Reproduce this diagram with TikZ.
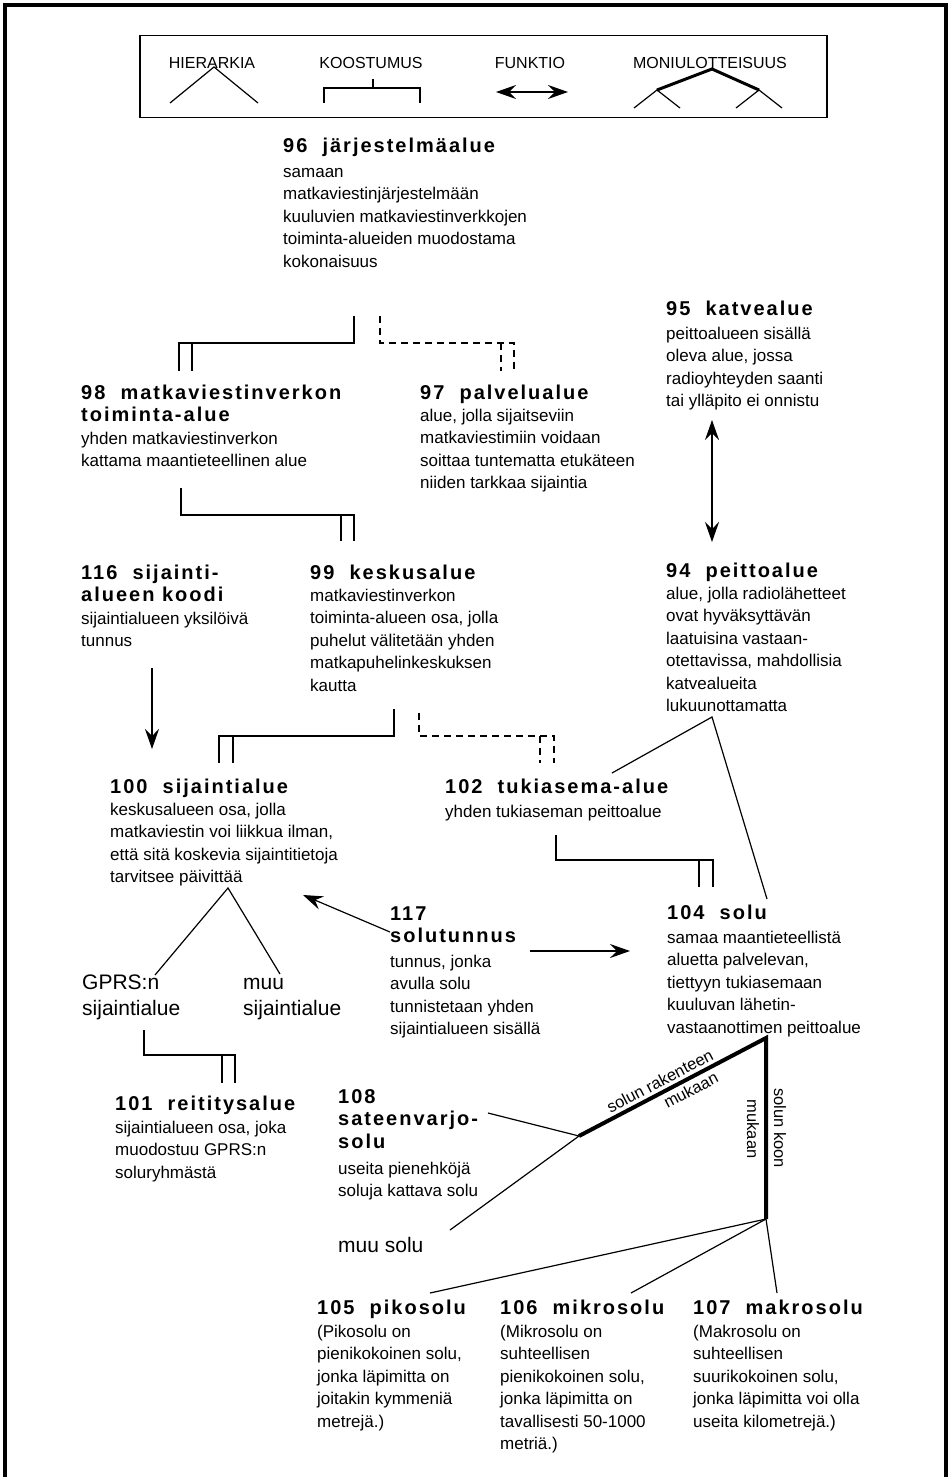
\documentclass[tikz,border=0pt]{standalone}
\usepackage{fontspec}
\setmainfont{Liberation Sans}
\newfontfamily\ttlfont[LetterSpace=10]{Liberation Sans}
\usetikzlibrary{arrows.meta}
\newcommand{\bodytxt}[1]{\fontsize{17}{22.5}\selectfont\begin{tabular}[t]{@{}l@{}}#1\end{tabular}}
\newcommand{\ttltxt}[1]{\ttlfont\bfseries\fontsize{20}{22.5}\selectfont\begin{tabular}[t]{@{}l@{}}#1\end{tabular}}
\newcommand{\bigtxt}[1]{\fontsize{21}{26}\selectfont\begin{tabular}[t]{@{}l@{}}#1\end{tabular}}
\begin{document}
\begin{tikzpicture}[x=1pt,y=-1pt,
  ln/.style={line width=1.2pt},
  dsh/.style={line width=1.2pt, dash pattern=on 7pt off 5pt},
  thk/.style={line width=4pt},
  arr/.style={line width=1.2pt,-{Stealth[length=20pt,width=14pt,inset=7pt]}},
  dblarr/.style={line width=1.2pt,{Stealth[length=20pt,width=14pt,inset=7pt]}-{Stealth[length=20pt,width=14pt,inset=7pt]}},
  lbl/.style={inner sep=0pt, anchor=base west},
  leg/.style={font=\fontsize{16}{18}\selectfont, inner sep=0pt},
  rlbl/.style={font=\fontsize{16.5}{19}\selectfont, inner sep=0pt},
]
\useasboundingbox (0,0) rectangle (952,1477);
\fill[white] (0,0) rectangle (952,1477);
% outer frame
\draw[line width=3.5pt] (5,1477) -- (5,5) -- (946,5) -- (946,1477);

% legend
\node[draw, line width=1.5pt, minimum width=687pt, minimum height=82pt, anchor=north west, inner sep=0pt] (legbox) at (139,35) {};
\node[leg] (lh) at (212,63) {HIERARKIA};
\node[leg] (lk) at (371,63) {KOOSTUMUS};
\node[leg] (lf) at (530,63) {FUNKTIO};
\node[leg] (lm) at (710,63) {MONIULOTTEISUUS};
\draw[ln] (170,103) -- (214,67) -- (258,103);
\draw[ln] (373,79) -- (373,88);
\draw[ln] (324,103) -- (324,88) -- (420,88) -- (420,103);
\coordinate (fa) at (496,92); \coordinate (fb) at (568,92);
\draw[dblarr] (fa) -- (fb);
\draw[thk, line width=3pt] (657,90) -- (712,69) -- (759,90);
\draw[ln] (634,108) -- (657,90) -- (680,108);
\draw[ln] (736,108) -- (759,90) -- (782,108);

% text blocks
\node[lbl] (t96) at (283,153) {\ttltxt{96\ \ järjestelmäalue}};
\node[lbl] (b96) at (283,177) {\bodytxt{samaan\\ matkaviestinjärjestelmään\\ kuuluvien matkaviestinverkkojen\\ toiminta-alueiden muodostama\\ kokonaisuus}};

\node[lbl] (t95) at (666,315) {\ttltxt{95\ \ katvealue}};
\node[lbl] (b95) at (666,339) {\bodytxt{peittoalueen sisällä\\ oleva alue, jossa\\ radioyhteyden saanti\\ tai ylläpito ei onnistu}};

\node[lbl] (t98) at (81,399) {\ttltxt{98\ \ matkaviestinverkon\\ toiminta-alue}};
\node[lbl] (b98) at (81,444) {\bodytxt{yhden matkaviestinverkon\\ kattama maantieteellinen alue}};

\node[lbl] (t97) at (420,399) {\ttltxt{97\ \ palvelualue}};
\node[lbl] (b97) at (420,421) {\bodytxt{alue, jolla sijaitseviin\\ matkaviestimiin voidaan\\ soittaa tuntematta etukäteen\\ niiden tarkkaa sijaintia}};

\node[lbl] (t116) at (81,579) {\ttltxt{116\ \ sijainti-\\ alueen koodi}};
\node[lbl] (b116) at (81,624) {\bodytxt{sijaintialueen yksilöivä\\ tunnus}};

\node[lbl] (t99) at (310,579) {\ttltxt{99\ \ keskusalue}};
\node[lbl] (b99) at (310,601) {\bodytxt{matkaviestinverkon\\ toiminta-alueen osa, jolla\\ puhelut välitetään yhden\\ matkapuhelinkeskuksen\\ kautta}};

\node[lbl] (t94) at (666,577) {\ttltxt{94\ \ peittoalue}};
\node[lbl] (b94) at (666,599) {\bodytxt{alue, jolla radiolähetteet\\ ovat hyväksyttävän\\ laatuisina vastaan-\\ otettavissa, mahdollisia\\ katvealueita\\ lukuunottamatta}};

\node[lbl] (t100) at (110,793) {\ttltxt{100\ \ sijaintialue}};
\node[lbl] (b100) at (110,815) {\bodytxt{keskusalueen osa, jolla\\ matkaviestin voi liikkua ilman,\\ että sitä koskevia sijaintitietoja\\ tarvitsee päivittää}};

\node[lbl] (t102) at (445,793) {\ttltxt{102\ \ tukiasema-alue}};
\node[lbl] (b102) at (445,817) {\bodytxt{yhden tukiaseman peittoalue}};

\node[lbl] (t117) at (390,920) {\ttltxt{117\\ solutunnus}};
\node[lbl] (b117) at (390,967) {\bodytxt{tunnus, jonka\\ avulla solu\\ tunnistetaan yhden\\ sijaintialueen sisällä}};

\node[lbl] (t104) at (667,919) {\ttltxt{104\ \ solu}};
\node[lbl] (b104) at (667,943) {\bodytxt{samaa maantieteellistä\\ aluetta palvelevan,\\ tiettyyn tukiasemaan\\ kuuluvan lähetin-\\ vastaanottimen peittoalue}};

\node[lbl] (gprs) at (82,989) {\bigtxt{GPRS:n\\ sijaintialue}};
\node[lbl] (muusij) at (243,989) {\bigtxt{muu\\ sijaintialue}};

\node[lbl] (t101) at (115,1110) {\ttltxt{101\ \ reititysalue}};
\node[lbl] (b101) at (115,1133) {\bodytxt{sijaintialueen osa, joka\\ muodostuu GPRS:n\\ soluryhmästä}};

\node[lbl] (t108) at (338,1103) {\ttltxt{108\\ sateenvarjo-\\ solu}};
\node[lbl] (b108) at (338,1174) {\bodytxt{useita pienehköjä\\ soluja kattava solu}};

\node[lbl] (muusolu) at (338,1252) {\bigtxt{muu solu}};

\node[lbl] (t105) at (317,1314) {\ttltxt{105\ \ pikosolu}};
\node[lbl] (b105) at (317,1337) {\bodytxt{(Pikosolu on\\ pienikokoinen solu,\\ jonka läpimitta on\\ joitakin kymmeniä\\ metrejä.)}};
\node[lbl] (t106) at (500,1314) {\ttltxt{106\ \ mikrosolu}};
\node[lbl] (b106) at (500,1337) {\bodytxt{(Mikrosolu on\\ suhteellisen\\ pienikokoinen solu,\\ jonka läpimitta on\\ tavallisesti 50-1000\\ metriä.)}};
\node[lbl] (t107) at (693,1314) {\ttltxt{107\ \ makrosolu}};
\node[lbl] (b107) at (693,1337) {\bodytxt{(Makrosolu on\\ suhteellisen\\ suurikokoinen solu,\\ jonka läpimitta voi olla\\ useita kilometrejä.)}};

% connectors
% 96 -> 98 composition, 96 -> 97 dashed
\draw[ln] (354,316) -- (354,343) -- (179,343) -- (179,371);
\draw[ln] (192,343) -- (192,371);
\draw[dsh] (380,316) -- (380,343) -- (514,343) -- (514,371);
\draw[dsh] (501,343) -- (501,371);
% 98 -> 99
\draw[ln] (181,488) -- (181,515) -- (354,515) -- (354,541);
\draw[ln] (341,515) -- (341,541);
% 95 <-> 94
\coordinate (a95) at (712,420); \coordinate (a94) at (712,542);
\draw[dblarr] (a95) -- (a94);
% 116 -> 100
\coordinate (a116) at (152,668); \coordinate (a100) at (152,749);
\draw[arr] (a116) -- (a100);
% 99 -> 100, 99 -> 102
\draw[ln] (394,709) -- (394,736) -- (219,736) -- (219,763);
\draw[ln] (233,736) -- (233,763);
\draw[dsh] (419,713) -- (419,736) -- (554,736) -- (554,763);
\draw[dsh] (540,736) -- (540,763);
% 94 hierarchy
\draw[ln] (612,773) -- (712,717) -- (767,899);
% 102 -> 104
\draw[ln] (556,835) -- (556,860) -- (713,860) -- (713,887);
\draw[ln] (699,860) -- (699,887);
% 100 hierarchy
\draw[ln] (155,975) -- (228,888) -- (280,974);
% 117 arrows
\coordinate (s117a) at (390,932); \coordinate (e117a) at (303,895);
\draw[arr] (s117a) -- (e117a);
\coordinate (s117b) at (530,951); \coordinate (e117b) at (630,951);
\draw[arr] (s117b) -- (e117b);
% GPRS -> 101
\draw[ln] (144,1030) -- (144,1055) -- (235,1055) -- (235,1083);
\draw[ln] (222,1055) -- (222,1083);
% 104 multidimensional
\coordinate (m0) at (766,1038);
\coordinate (m1) at (579,1136);
\coordinate (m2) at (766,1219);
\draw[thk] (m1) -- (m0) -- (m2);
\path (m1) -- (m0)
  node[pos=.46, sloped, above=5pt, rlbl] (lr1) {solun rakenteen}
  node[pos=.57, sloped, below=5pt, rlbl] (lr2) {mukaan};
\node[rotate=-90, rlbl] (lk1) at (780,1128) {solun koon};
\node[rotate=-90, rlbl] (lk2) at (753,1129) {mukaan};
\draw[ln] (488,1113) -- (m1) -- (450,1230);
\draw[ln] (430,1293) -- (m2) -- (777,1293);
\draw[ln] (631,1293) -- (m2);
\end{tikzpicture}
\end{document}
